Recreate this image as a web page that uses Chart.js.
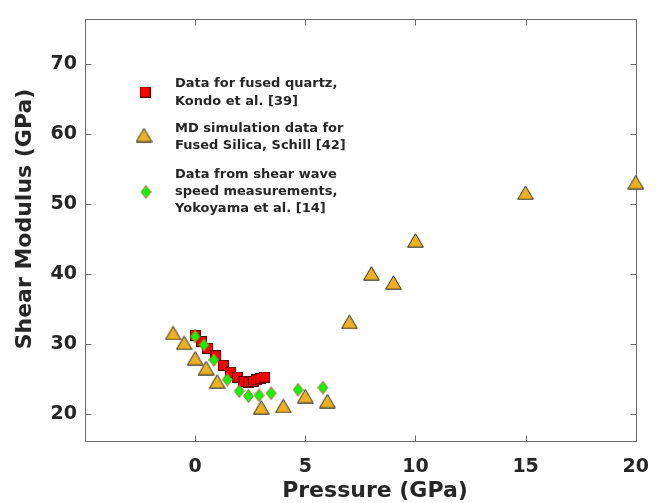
<!DOCTYPE html>
<html>
<head>
<meta charset="utf-8">
<script src="https://cdn.jsdelivr.net/npm/chart.js@4.4.1/dist/chart.umd.min.js"></script>
<style>
  html, body { margin: 0; padding: 0; background: #fff; }
</style>
</head>
<body>
<canvas id="grafico" width="664" height="503"></canvas>
<script>
// Kondo et al. [39], fused quartz
const kondoPressure = [0, 0.28, 0.58, 0.94, 1.28, 1.61, 1.91, 2.21, 2.44, 2.64, 2.79, 2.97, 3.16];
const kondoModulus = [31.25, 30.4, 29.4, 28.35, 27.0, 26.0, 25.3, 24.7, 24.6, 24.7, 24.9, 25.1, 25.3];

// MD simulation, Schill [42]
const schillPressure = [-1, -0.5, 0, 0.5, 1, 3, 4, 5, 6, 7, 8, 9, 10, 15, 20];
const schillModulus = [31.6, 30.2, 28.0, 26.6, 24.7, 21.0, 21.2, 22.6, 21.9, 33.2, 40.1, 38.8, 44.8, 51.6, 53.1];

// shear wave speed, Yokoyama et al. [14]
const yokoPressure = [0, 0.4, 0.85, 1.46, 2.0, 2.42, 2.9, 3.45, 4.67, 5.8];
const yokoModulus = [31.1, 29.9, 27.75, 24.95, 23.3, 22.6, 22.7, 23.0, 23.5, 23.8];

const xTicks = [0, 5, 10, 15, 20];
const yTicks = [20, 30, 40, 50, 60, 70];

const legendLines = [
  ["Data for fused quartz,", "Kondo et al. [39]"],
  ["MD simulation data for", "Fused Silica, Schill [42]"],
  ["Data from shear wave", "speed measurements,", "Yokoyama et al. [14]"],
];
const xTitle = "Pressure (GPa)";
const yTitle = "Shear Modulus (GPa)";

const fonte = "DejaVu Sans";
const corTexto = "#262626";

function pares(xs, ys) {
  return xs.map((x, i) => ({ x: x, y: ys[i] }));
}

function marcador(w, h, desenho) {
  const c = document.createElement("canvas");
  c.width = w;
  c.height = h;
  desenho(c.getContext("2d"));
  return c;
}

const quadrado = marcador(11, 11, (g) => {
  g.fillStyle = "#ff0000";
  g.fillRect(0.5, 0.5, 10, 10);
  g.strokeStyle = "#5a0000";
  g.lineWidth = 1;
  g.strokeRect(0.5, 0.5, 10, 10);
});

const triangulo = marcador(17, 15, (g) => {
  g.beginPath();
  g.moveTo(8.5, 0.8);
  g.lineTo(16.3, 14.2);
  g.lineTo(0.7, 14.2);
  g.closePath();
  g.fillStyle = "#edb120";
  g.fill();
  g.strokeStyle = "#2b2b2b";
  g.lineWidth = 1;
  g.stroke();
});

const losango = marcador(11, 14, (g) => {
  g.beginPath();
  g.moveTo(5.5, 0.6);
  g.lineTo(10.4, 7);
  g.lineTo(5.5, 13.4);
  g.lineTo(0.6, 7);
  g.closePath();
  g.fillStyle = "#00ff00";
  g.fill();
  g.strokeStyle = "#e8403a";
  g.lineWidth = 0.9;
  g.stroke();
});

const moldura = {
  id: "moldura",
  beforeDatasetsDraw(chart) {
    const { ctx, chartArea: a, scales } = chart;
    ctx.save();
    ctx.strokeStyle = "#6b6b6b";
    ctx.lineWidth = 1;
    const l = Math.round(a.left) + 0.5, r = Math.round(a.right) + 0.5;
    const t = Math.round(a.top) + 0.5, b = Math.round(a.bottom) + 0.5;
    ctx.strokeRect(l, t, r - l, b - t);
    ctx.beginPath();
    for (const v of xTicks) {
      const px = Math.round(scales.x.getPixelForValue(v)) + 0.5;
      ctx.moveTo(px, b); ctx.lineTo(px, b - 6);
      ctx.moveTo(px, t); ctx.lineTo(px, t + 6);
    }
    for (const v of yTicks) {
      const py = Math.round(scales.y.getPixelForValue(v)) + 0.5;
      ctx.moveTo(l, py); ctx.lineTo(l + 6, py);
      ctx.moveTo(r, py); ctx.lineTo(r - 6, py);
    }
    ctx.stroke();
    ctx.restore();
  },
  afterDraw(chart) {
    const ctx = chart.ctx;
    ctx.save();
    ctx.fillStyle = corTexto;

    // legenda
    const simbolos = [quadrado, triangulo, losango];
    const posSimb = [[145, 92], [144, 135], [146, 192]];
    const linhasY = [[84, 101.5], [128.5, 146], [175, 192, 209]];
    ctx.font = "bold 13px '" + fonte + "'";
    ctx.textAlign = "left";
    ctx.textBaseline = "middle";
    simbolos.forEach((s, i) => {
      ctx.drawImage(s, posSimb[i][0] - s.width / 2, posSimb[i][1] - s.height / 2);
      legendLines[i].forEach((txt, j) => ctx.fillText(txt, 175, linhasY[i][j]));
    });

    // titulos dos eixos
    ctx.font = "bold 22px '" + fonte + "'";
    ctx.textAlign = "center";
    ctx.fillText(xTitle, 375, 491);
    ctx.translate(25, 219);
    ctx.rotate(-Math.PI / 2);
    ctx.fillText(yTitle, 0, 0);
    ctx.restore();
  },
};

let grafico = new Chart(document.getElementById("grafico"), {
  type: "scatter",
  data: {
    datasets: [
      {
        label: "Yokoyama et al. [14]",
        data: pares(yokoPressure, yokoModulus),
        pointStyle: losango,
        order: 0,
        clip: false,
      },
      {
        label: "Kondo et al. [39]",
        data: pares(kondoPressure, kondoModulus),
        pointStyle: quadrado,
        order: 1,
        clip: false,
      },
      {
        label: "Schill [42]",
        data: pares(schillPressure, schillModulus),
        pointStyle: triangulo,
        order: 2,
        clip: false,
      },
    ],
  },
  options: {
    responsive: false,
    animation: false,
    events: [],
    layout: {
      padding: { left: 0, right: 28, top: 10, bottom: 0 },
    },
    plugins: {
      legend: { display: false },
      tooltip: { enabled: false },
    },
    scales: {
      x: {
        type: "linear",
        min: -5,
        max: 20,
        grid: { display: false, drawTicks: false },
        border: { display: false },
        afterBuildTicks: (s) => { s.ticks = xTicks.map((v) => ({ value: v })); },
        afterFit: (s) => { s.height = 62; },
        ticks: {
          padding: 15,
          color: corTexto,
          font: { family: fonte, size: 19, weight: "bold" },
        },
      },
      y: {
        type: "linear",
        min: 16.2,
        max: 76.3,
        grid: { display: false, drawTicks: false },
        border: { display: false },
        afterBuildTicks: (s) => { s.ticks = yTicks.map((v) => ({ value: v })); },
        afterFit: (s) => { s.width = 85; },
        ticks: {
          padding: 8,
          color: corTexto,
          font: { family: fonte, size: 19, weight: "bold" },
        },
      },
    },
  },
  plugins: [moldura],
});
</script>
</body>
</html>
